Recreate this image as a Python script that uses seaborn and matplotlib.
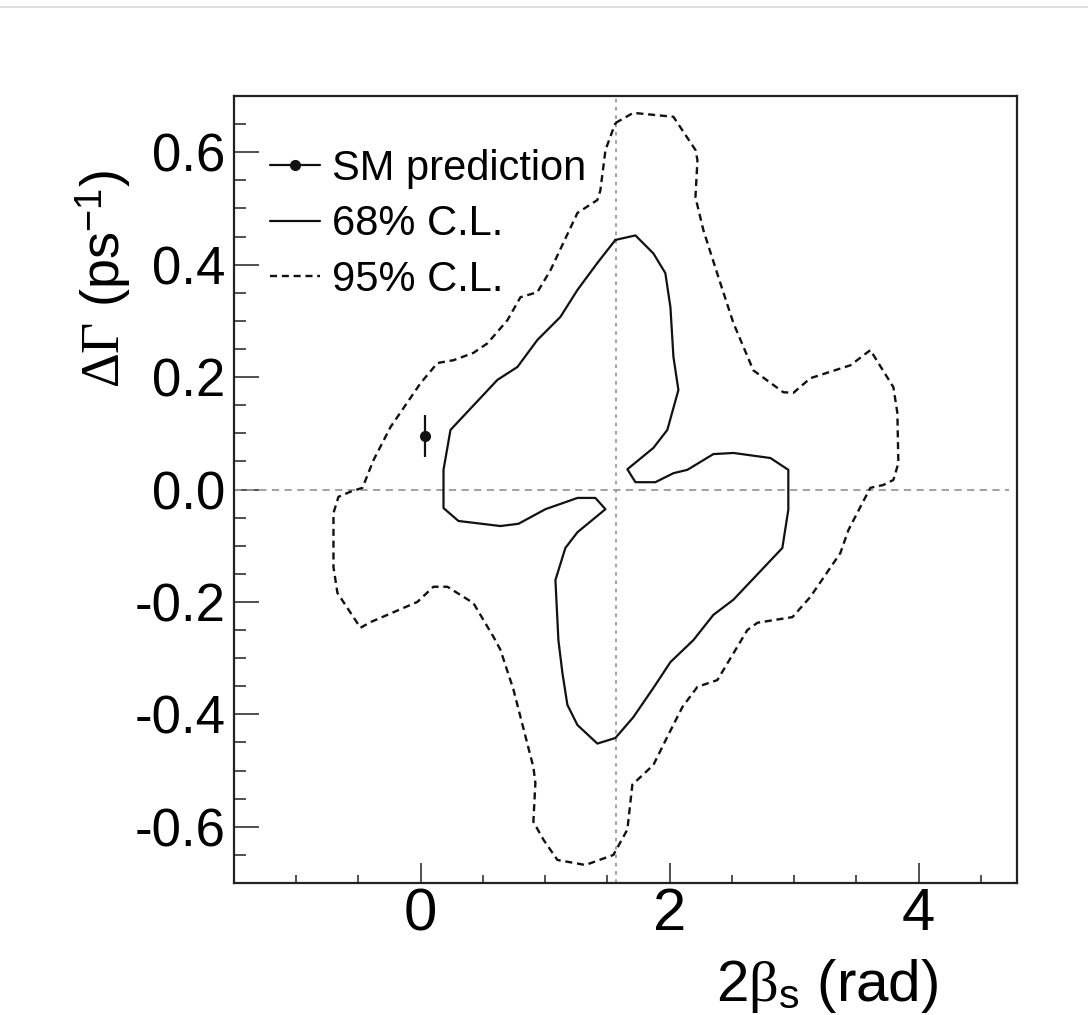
import numpy as np
import matplotlib
matplotlib.use("Agg")
import matplotlib.pyplot as plt
from matplotlib.lines import Line2D
from matplotlib.ticker import MultipleLocator, FormatStrFormatter
import seaborn as sns

# ---------------- data ----------------
cl95_x = [1.564, 1.708, 2.030, 2.207, 2.223, 2.207, 2.271, 2.407, 2.512, 2.672,
          2.913, 2.994, 3.130, 3.452, 3.612, 3.797, 3.829, 3.837, 3.797, 3.716,
          3.612, 3.548, 3.436, 3.371, 3.130, 2.986, 2.705, 2.624, 2.383, 2.223,
          2.102, 1.981, 1.869, 1.700, 1.660, 1.548, 1.323, 1.098, 0.986, 0.905,
          0.921, 0.905, 0.745, 0.640, 0.584, 0.423, 0.214, 0.102, -0.027, -0.404,
          -0.484, -0.669, -0.701, -0.701, -0.661, -0.565, -0.468, -0.380, -0.243, -0.002,
          0.134, 0.263, 0.423, 0.536, 0.696, 0.801, 0.937, 1.042, 1.259, 1.419,
          1.443, 1.484, 1.564]
cl95_y = [0.652, 0.670, 0.663, 0.604, 0.586, 0.520, 0.461, 0.367, 0.296, 0.212,
          0.173, 0.172, 0.198, 0.221, 0.248, 0.182, 0.136, 0.047, 0.017, 0.008,
          0.003, -0.024, -0.072, -0.113, -0.191, -0.227, -0.237, -0.250, -0.339, -0.351,
          -0.387, -0.440, -0.490, -0.525, -0.605, -0.650, -0.668, -0.659, -0.623, -0.591,
          -0.522, -0.494, -0.356, -0.285, -0.262, -0.202, -0.173, -0.173, -0.200, -0.236,
          -0.246, -0.184, -0.138, -0.042, -0.013, -0.004, 0.003, 0.052, 0.111, 0.189,
          0.225, 0.230, 0.243, 0.260, 0.301, 0.342, 0.351, 0.390, 0.492, 0.515,
          0.532, 0.604, 0.652]

cl68_x = [1.564, 1.725, 1.869, 1.965, 2.006, 2.030, 2.070, 1.981, 1.869, 1.660,
          1.725, 1.885, 2.030, 2.142, 2.351, 2.512, 2.809, 2.953, 2.953, 2.905,
          2.512, 2.351, 2.190, 2.006, 1.869, 1.708, 1.564, 1.419, 1.259, 1.178,
          1.138, 1.106, 1.082, 1.162, 1.259, 1.484, 1.403, 1.259, 1.002, 0.785,
          0.640, 0.303, 0.183, 0.183, 0.239, 0.616, 0.777, 0.937, 1.122, 1.259,
          1.419, 1.564]
cl68_y = [0.444, 0.452, 0.420, 0.385, 0.324, 0.236, 0.177, 0.106, 0.074, 0.036,
          0.013, 0.013, 0.029, 0.035, 0.063, 0.065, 0.056, 0.035, -0.036, -0.104,
          -0.196, -0.223, -0.268, -0.307, -0.353, -0.405, -0.442, -0.452, -0.419, -0.383,
          -0.326, -0.268, -0.161, -0.104, -0.076, -0.035, -0.015, -0.015, -0.035, -0.061,
          -0.065, -0.056, -0.033, 0.035, 0.106, 0.195, 0.218, 0.266, 0.307, 0.355,
          0.403, 0.444]

sm_x = [0.038]
sm_y = [0.095]
sm_err = [0.038]

ref_x = np.pi / 2   # vertical reference line
ref_y = 0.0         # horizontal reference line

x_range = (-1.5, 4.79)
y_range = (-0.7, 0.7)

legend_labels = ["SM prediction", "68% C.L.", "95% C.L."]
x_label = r"2$\mathrm{\beta}_{\mathsf{s}}$ (rad)"
y_label = r"$\Delta\Gamma$ (ps$^{\mathsf{-1}}$)"

# ---------------- style ----------------
sns.set_theme(style="white")
plt.rcParams["font.family"] = ["Liberation Sans", "DejaVu Sans"]
plt.rcParams["mathtext.fontset"] = "custom"
plt.rcParams["mathtext.rm"] = "Liberation Serif"
plt.rcParams["mathtext.it"] = "Liberation Serif:italic"
plt.rcParams["mathtext.sf"] = "Liberation Sans"
plt.rcParams["axes.unicode_minus"] = False
plt.rcParams["text.color"] = "black"
plt.rcParams["xtick.color"] = "black"
plt.rcParams["ytick.color"] = "black"
plt.rcParams["xtick.labelcolor"] = "black"
plt.rcParams["ytick.labelcolor"] = "black"

W, H = 1088, 1015
fig = plt.figure(figsize=(W / 100, H / 100), dpi=100)
fig.patch.set_facecolor("white")
L, R, T, B = 234, 1017, 96, 883
ax = fig.add_axes([L / W, 1 - B / H, (R - L) / W, (B - T) / H])
ax.set_facecolor("white")

grey = "#9a9a9a"
ax.axhline(ref_y, xmax=0.99, color=grey, lw=1.3, linestyle=(0, (4, 3)), zorder=1)
ax.axvline(ref_x, color=grey, lw=1.3, linestyle=(0, (2, 2.6)), zorder=1)

sns.lineplot(x=cl68_x, y=cl68_y, sort=False, estimator=None, ax=ax,
             color="#111111", lw=1.6, zorder=3)
sns.lineplot(x=cl95_x, y=cl95_y, sort=False, estimator=None, ax=ax,
             color="#111111", lw=1.7, linestyle=(0, (3, 2)), zorder=3)
ax.errorbar(sm_x, sm_y, yerr=sm_err, fmt="o", color="#111111", ms=7,
            elinewidth=1.6, capsize=0, zorder=4)

ax.set_xlim(*x_range)
ax.set_ylim(*y_range)

ax.xaxis.set_major_locator(MultipleLocator(2))
ax.xaxis.set_minor_locator(MultipleLocator(0.5))
ax.yaxis.set_major_locator(MultipleLocator(0.2))
ax.yaxis.set_minor_locator(MultipleLocator(0.05))
ax.xaxis.set_major_formatter(FormatStrFormatter("%d"))
ax.yaxis.set_major_formatter(FormatStrFormatter("%.1f"))

ax.tick_params(axis="x", which="major", direction="in", length=14.5, width=1.2,
               color="#333333", labelcolor="black", labelsize=43, pad=3,
               bottom=True, top=False)
ax.tick_params(axis="x", which="minor", direction="in", length=6, width=1.2,
               color="#333333", bottom=True, top=False)
ax.tick_params(axis="y", which="major", direction="in", length=18, width=1.2,
               color="#333333", labelcolor="black", labelsize=38, pad=6,
               left=True, right=False)
ax.tick_params(axis="y", which="minor", direction="in", length=8.5, width=1.2,
               color="#333333", left=True, right=False)

for s in ax.spines.values():
    s.set_visible(True)
    s.set_color("#222222")
    s.set_linewidth(1.6)

ax.set_xlabel("")
ax.set_ylabel("")

fig.text(938 / W, 1 - 1001 / H, x_label, fontsize=42, ha="right", va="baseline",
         color="black")
fig.text(120 / W, 1 - 170 / H, y_label, fontsize=39, rotation=90,
         rotation_mode="anchor", ha="right", va="baseline", color="black")

handles = [
    Line2D([], [], color="#111111", lw=1.6, marker="o", ms=7),
    Line2D([], [], color="#111111", lw=1.6),
    Line2D([], [], color="#111111", lw=1.7, linestyle=(0, (3, 2))),
]
fs_leg = 30
leg = ax.legend(handles, legend_labels, loc="upper left",
                bbox_to_anchor=(270 / W, 1 - 149 / H), bbox_transform=fig.transFigure,
                frameon=False, borderpad=0, borderaxespad=0, fontsize=fs_leg,
                handlelength=1.2, handletextpad=0.29, labelspacing=0.37)
for t in leg.get_texts():
    t.set_color("black")

fig.add_artist(Line2D([0, 1], [1 - 7 / H, 1 - 7 / H], transform=fig.transFigure,
                      color="#d8d8d8", lw=1.2))

fig.savefig("out.png", dpi=100, facecolor="white")
